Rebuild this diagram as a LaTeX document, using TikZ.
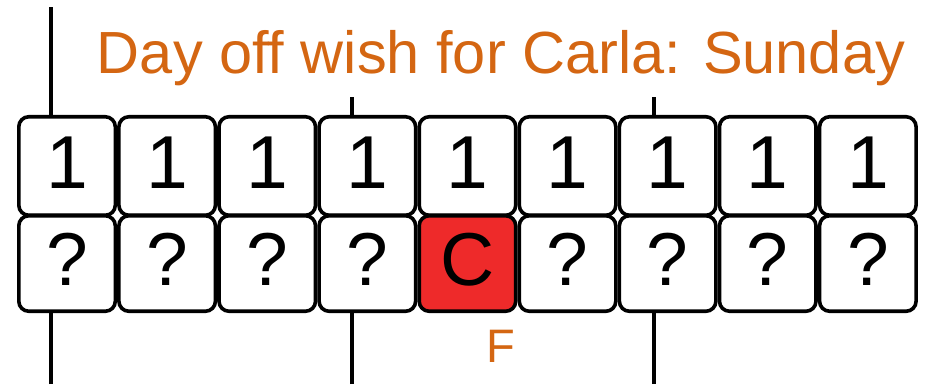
\documentclass[tikz,border=0pt]{standalone}
\usepackage{fontspec}
\setmainfont{Liberation Sans}
\definecolor{orangeC}{RGB}{212,102,18}
\definecolor{redC}{RGB}{238,42,42}
\begin{document}
\begin{tikzpicture}[x=1pt,y=-1pt,
  cell/.style={draw=black, line width=3.6pt, rounded corners=10pt, minimum width=96.5pt,
    inner sep=0pt, fill=white, text height=44pt, text depth=0pt,
    font=\fontsize{75}{75}\selectfont},
  toprow/.style={cell, minimum height=98.5pt},
  botrow/.style={cell, minimum height=95.5pt},
  wire/.style={line width=3.6pt},
  lbl/.style={text=orangeC, inner sep=0pt, anchor=base}]
\useasboundingbox (0,0) rectangle (937,384);
\foreach \i in {0,...,8}{
  \node[toprow] (t\i) at ({67.05+100.1*\i},166) {1};
}
\foreach \i in {0,1,2,3,5,6,7,8}{
  \node[botrow] (b\i) at ({67.05+100.1*\i},263.5) {?};
}
\node[botrow, fill=redC] (b4) at ({67.05+100.1*4},263.5) {C};
\node[lbl, font=\fontsize{59.5}{59.5}\selectfont] (title) at (501,73) {Day off wish for Carla: Sunday};
\node[lbl, font=\fontsize{47}{47}\selectfont] (f) at (501,362) {F};
\coordinate (u0) at (51,7);
\coordinate (d0) at (51,384);
\coordinate (u3) at (352,97);
\coordinate (d3) at (352,384);
\coordinate (u6) at (654,97);
\coordinate (d6) at (654,384);
\draw[wire] (u0) -- (u0 |- t0.north);
\draw[wire] (d0) -- (d0 |- b0.south);
\draw[wire] (u3) -- (u3 |- t3.north);
\draw[wire] (d3) -- (d3 |- b3.south);
\draw[wire] (u6) -- (u6 |- t6.north);
\draw[wire] (d6) -- (d6 |- b6.south);
\end{tikzpicture}
\end{document}
